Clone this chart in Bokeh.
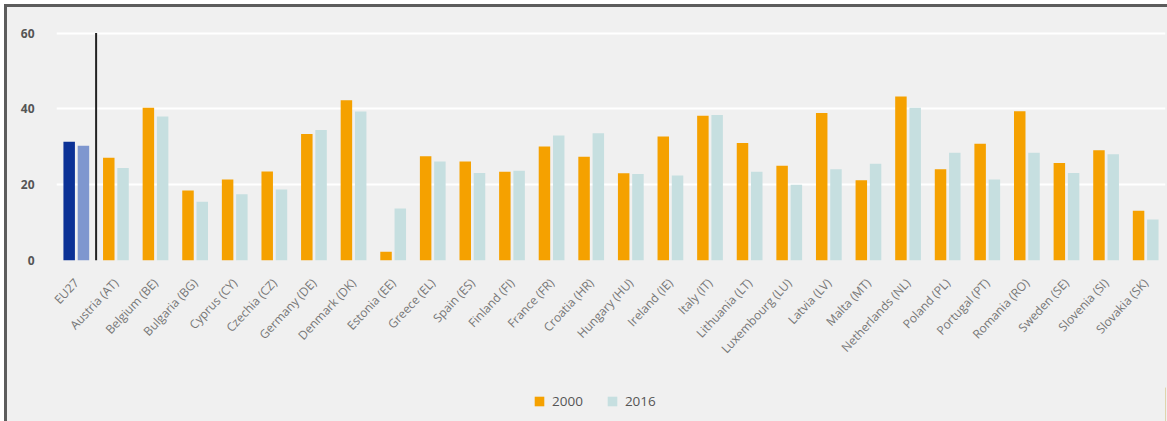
from bokeh.plotting import figure
from bokeh.models import ColumnDataSource, FactorRange, Range1d, Legend, LegendItem
from bokeh.layouts import column
from bokeh.transform import dodge
from bokeh.embed import file_html
from bokeh.resources import INLINE

categories = ["EU27", "Austria (AT)", "Belgium (BE)", "Bulgaria (BG)", "Cyprus (CY)",
              "Czechia (CZ)", "Germany (DE)", "Denmark (DK)", "Estonia (EE)", "Greece (EL)",
              "Spain (ES)", "Finland (FI)", "France (FR)", "Croatia (HR)", "Hungary (HU)",
              "Ireland (IE)", "Italy (IT)", "Lithuania (LT)", "Luxembourg (LU)", "Latvia (LV)",
              "Malta (MT)", "Netherlands (NL)", "Poland (PL)", "Portugal (PT)", "Romania (RO)",
              "Sweden (SE)", "Slovenia (SI)", "Slovakia (SK)"]
values_2000 = [31.3, 27.1, 40.3, 18.5, 21.4, 23.5, 33.4, 42.3, 2.3, 27.5,
               26.1, 23.4, 30.1, 27.4, 23.0, 32.7, 38.2, 31.0, 25.0, 38.9,
               21.2, 43.3, 24.1, 30.8, 39.4, 25.7, 29.1, 13.1]
values_2016 = [30.3, 24.4, 38.0, 15.5, 17.5, 18.7, 34.4, 39.3, 13.7, 26.1,
               23.1, 23.7, 33.0, 33.6, 22.8, 22.4, 38.4, 23.4, 20.0, 24.1,
               25.5, 40.3, 28.4, 21.4, 28.4, 23.1, 28.0, 10.8]
series_names = ["2000", "2016"]
y_ticks = [0, 20, 40, 60]

ORANGE = "#F5A100"
TEAL = "#C6DFE0"
EU_DARK = "#0B3196"
EU_LIGHT = "#7F97CF"
BG = "#F0F0F0"
EDGE = "3px solid #5c5c5c"

c2000 = [EU_DARK] + [ORANGE] * (len(categories) - 1)
c2016 = [EU_LIGHT] + [TEAL] * (len(categories) - 1)

src = ColumnDataSource(dict(cat=categories, v2000=values_2000, v2016=values_2016,
                            c2000=c2000, c2016=c2016))

p = figure(width=1160, height=380, x_range=FactorRange(*categories),
           y_range=Range1d(0, 62), output_backend="svg", toolbar_location=None,
           min_border_left=49, min_border_right=2, min_border_top=18,
           min_border_bottom=127, margin=0)
p.background_fill_color = BG
p.border_fill_color = BG
p.outline_line_color = None

p.vbar(x=dodge("cat", -0.18, range=p.x_range), top="v2000", width=0.29,
       source=src, fill_color="c2000", line_color=None)
p.vbar(x=dodge("cat", 0.18, range=p.x_range), top="v2016", width=0.29,
       source=src, fill_color="c2016", line_color=None)

# separator line between EU27 and member states
sep = ColumnDataSource(dict(cat=[categories[0]], y0=[0], y1=[y_ticks[-1]]))
p.segment(x0=dodge("cat", 0.5, range=p.x_range), x1=dodge("cat", 0.5, range=p.x_range),
          y0="y0", y1="y1", source=sep, line_color="#222222", line_width=2)

p.xgrid.grid_line_color = None
p.ygrid.grid_line_color = "#FFFFFF"
p.ygrid.grid_line_width = 2
p.ygrid.level = "underlay"

p.yaxis.ticker = y_ticks
p.yaxis.axis_line_color = None
p.yaxis.major_tick_line_color = None
p.yaxis.minor_tick_line_color = None
p.yaxis.major_label_standoff = 16
p.yaxis.major_label_text_font = "Open Sans"
p.yaxis.major_label_text_font_size = "12px"
p.yaxis.major_label_text_font_style = "bold"
p.yaxis.major_label_text_color = "#555555"

p.xaxis.axis_line_color = None
p.xaxis.major_tick_line_color = None
p.xaxis.minor_tick_line_color = None
p.xaxis.major_label_orientation = 0.82
p.xaxis.major_label_standoff = 14
p.xaxis.major_label_text_font = "Open Sans"
p.xaxis.major_label_text_font_size = "12px"
p.xaxis.major_label_text_color = "#777777"

# legend strip below the chart (keys reuse the series' colours)
lg = figure(width=1160, height=34, x_range=Range1d(0, 1), y_range=Range1d(0, 1),
            output_backend="svg", toolbar_location=None,
            x_axis_location=None, y_axis_location=None,
            min_border_left=0, min_border_right=0, min_border_top=0, min_border_bottom=0,
            margin=0)
lg.background_fill_color = BG
lg.border_fill_color = BG
lg.outline_line_color = None
lg.grid.visible = False
key_src = ColumnDataSource(dict(x=[5, 5], top=[1, 1]))
k1 = lg.vbar(x="x", top="top", width=0.1, source=key_src, fill_color=ORANGE, line_color=None)
k2 = lg.vbar(x="x", top="top", width=0.1, source=key_src, fill_color=TEAL, line_color=None)

legend = Legend(items=[LegendItem(label=series_names[0], renderers=[k1], index=0),
                       LegendItem(label=series_names[1], renderers=[k2], index=0)],
                location=(477, 11), orientation="horizontal",
                background_fill_alpha=0, border_line_color=None,
                glyph_width=12, glyph_height=12, label_height=12,
                label_standoff=7, spacing=23, padding=0, margin=0,
                label_text_font="Open Sans", label_text_font_size="13.5px",
                label_text_color="#555555")
lg.add_layout(legend)

layout = column(p, lg, spacing=0, margin=(4, 0, 0, 4))
layout.styles = {"border-top": EDGE, "border-left": EDGE, "background-color": BG}
open("out.html", "w").write(file_html(layout, INLINE))
